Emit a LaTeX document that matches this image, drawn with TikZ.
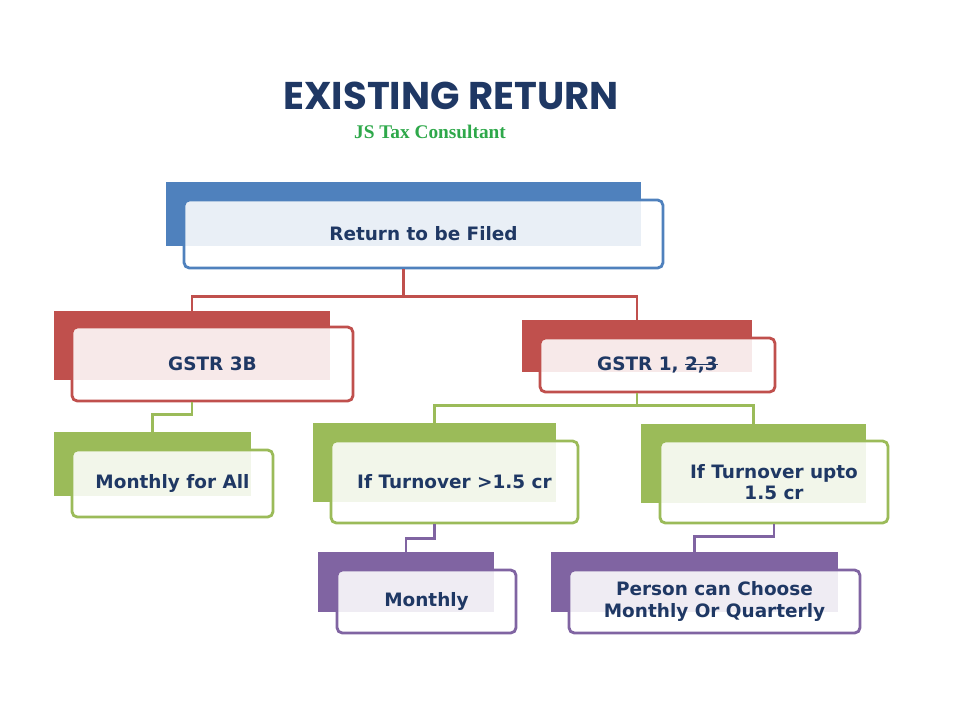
\documentclass[tikz,border=0pt]{standalone}
\usepackage{fontspec}
\setmainfont{DejaVu Sans}
\newfontfamily\titlefont{Poppins}
\newfontfamily\serifjs{Liberation Serif}
\newcommand{\strike}[1]{\setbox0\hbox{#1}\rlap{\rule[0.55ex]{\wd0}{0.7pt}}#1}
\definecolor{navy}{HTML}{1F3864}
\definecolor{cblue}{HTML}{4F81BD}
\definecolor{cred}{HTML}{C0504D}
\definecolor{cgreen}{HTML}{9BBB59}
\definecolor{cpurple}{HTML}{8064A2}
\definecolor{jsgreen}{HTML}{2EA84A}
\begin{document}
\begin{tikzpicture}[x=0.02cm, y=-0.02cm,
  back/.style={fill=#1, inner sep=0pt},
  front/.style={draw=#1, line width=1.6pt, rounded corners=3pt, fill=white, fill opacity=0.88, text opacity=1, inner sep=0pt, align=center, font=\bfseries\fontsize{10.5}{12}\selectfont, text=navy},
  link/.style={draw=#1, line width=1.4pt}]
\useasboundingbox (0,0) rectangle (960,720);

\node[font=\titlefont\bfseries\fontsize{22}{24}\selectfont, text=navy] (title) at (451,96) {EXISTING RETURN};
\node[font=\serifjs\bfseries\fontsize{11}{12}\selectfont, text=jsgreen] (js) at (430,132) {JS Tax Consultant};

\node[back=cblue, minimum width=9.5cm, minimum height=1.28cm] (broot) at (403.5,214) {};
\node[front=cblue, minimum width=9.58cm, minimum height=1.36cm] (froot) at (423.5,234) {Return to be Filed};

\node[back=cred, minimum width=5.52cm, minimum height=1.38cm] (b3b) at (192,345.5) {};
\node[front=cred, minimum width=5.62cm, minimum height=1.48cm] (f3b) at (212.5,364) {GSTR 3B};

\node[back=cred, minimum width=4.6cm, minimum height=1.04cm] (bg1) at (637,346) {};
\node[front=cred, minimum width=4.7cm, minimum height=1.08cm] (fg1) at (657.5,365) {GSTR 1, \strike{2,3}};

\node[back=cgreen, minimum width=3.94cm, minimum height=1.28cm] (bma) at (152.5,464) {};
\node[front=cgreen, minimum width=4.02cm, minimum height=1.34cm] (fma) at (172.5,483.5) {Monthly for All};

\node[back=cgreen, minimum width=4.86cm, minimum height=1.58cm] (btg) at (434.5,462.5) {};
\node[front=cgreen, minimum width=4.94cm, minimum height=1.64cm] (ftg) at (454.5,482) {If Turnover >1.5 cr};

\node[back=cgreen, minimum width=4.5cm, minimum height=1.58cm] (btu) at (753.5,463.5) {};
\node[front=cgreen, minimum width=4.56cm, minimum height=1.64cm] (ftu) at (774,482) {If Turnover upto\\1.5 cr};

\node[back=cpurple, minimum width=3.52cm, minimum height=1.2cm] (bmo) at (406,582) {};
\node[front=cpurple, minimum width=3.58cm, minimum height=1.26cm] (fmo) at (426.5,601.5) {Monthly};

\node[back=cpurple, minimum width=5.74cm, minimum height=1.2cm] (bpc) at (694.5,582) {};
\node[front=cpurple, minimum width=5.82cm, minimum height=1.26cm] (fpc) at (714.5,601.5) {Person can Choose\\Monthly Or Quarterly};

% connectors
\draw[link=cred] (froot.south -| broot.north) -- ++(0,27) -| (b3b.north);
\draw[link=cred] (froot.south -| broot.north) -- ++(0,27) -| (bg1.north);
\draw[link=cgreen] (f3b.south -| b3b.north) -- ++(0,12) -| (bma.north);
\draw[link=cgreen] (fg1.south -| bg1.north) -- ++(0,12) -| (btg.north);
\draw[link=cgreen] (fg1.south -| bg1.north) -- ++(0,12) -| (btu.north);
\draw[link=cpurple] (ftg.south -| btg.north) -- ++(0,14) -| (bmo.north);
\draw[link=cpurple] (ftu.south) -- ++(0,12) -| (bpc.north);
\end{tikzpicture}
\end{document}
